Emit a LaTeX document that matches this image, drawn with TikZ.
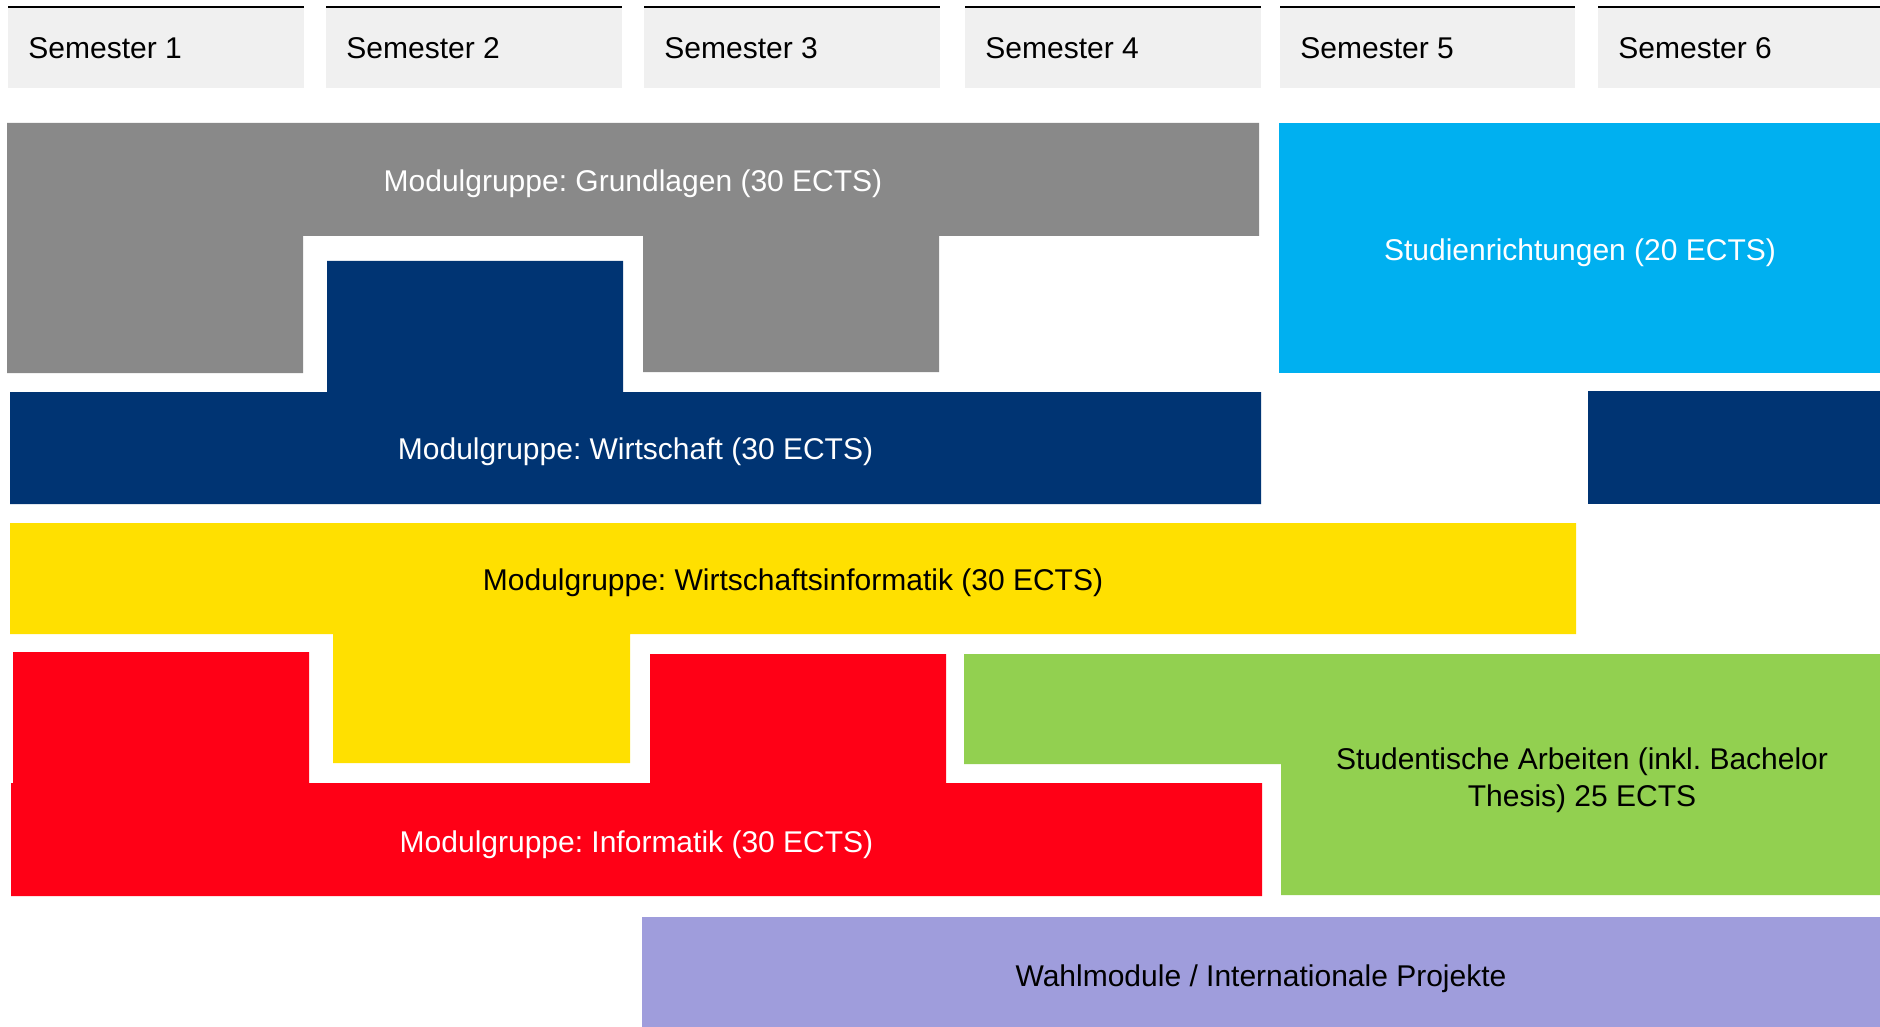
\documentclass[tikz,border=0pt]{standalone}
\usepackage{fontspec}
\setmainfont{Liberation Sans}
\frenchspacing
\definecolor{hdr}{HTML}{F0F0F0}
\definecolor{cgray}{HTML}{898989}
\definecolor{cnavy}{HTML}{003473}
\definecolor{ccyan}{HTML}{00B0F0}
\definecolor{cyellow}{HTML}{FFE000}
\definecolor{cred}{HTML}{FF0016}
\definecolor{cgreen}{HTML}{92D050}
\definecolor{cpurple}{HTML}{9F9DDC}
\begin{document}
\begin{tikzpicture}[x=0.5pt,y=-0.5pt,
  lbl/.style={inner sep=0pt, font=\fontsize{15}{18.3}\selectfont},
  wlbl/.style={lbl, text=white},
  klbl/.style={lbl, text=black}]
\useasboundingbox (0,0) rectangle (1880,1027);
\fill[white] (0,0) rectangle (1880,1027);

% header
\foreach \l/\r/\n in {8/304/1,326/622/2,644/940/3,965/1261/4,1280/1575/5,1598/1880/6} {
  \fill[hdr] (\l,7) rectangle (\r,88);
  \draw[line width=1pt, black] (\l,7) -- (\r,7);
  \node[klbl, anchor=base west] (sem\n) at (\l+20,59) {Semester \n};
}

% Grundlagen
\fill[cgray] (7,123) -- (1259,123) -- (1259,236) -- (939,236) -- (939,372) -- (643,372)
  -- (643,236) -- (303,236) -- (303,373) -- (7,373) -- cycle;
\node[wlbl] (grund) at (633,184) {Modulgruppe: Grundlagen (30 ECTS)};

% Studienrichtungen
\fill[ccyan] (1279,123) rectangle (1880,373);
\node[wlbl] (studr) at (1580,253) {Studienrichtungen (20 ECTS)};

% Wirtschaft
\fill[cnavy] (10,392) -- (327,392) -- (327,261) -- (623,261) -- (623,392) -- (1261,392)
  -- (1261,504) -- (10,504) -- cycle;
\fill[cnavy] (1588,391) rectangle (1880,504);
\node[wlbl] (wirt) at (635.5,452) {Modulgruppe: Wirtschaft (30 ECTS)};

% Wirtschaftsinformatik
\fill[cyellow] (10,523) -- (1576,523) -- (1576,634) -- (630,634) -- (630,763) -- (333,763)
  -- (333,634) -- (10,634) -- cycle;
\node[klbl] (winf) at (793,583) {Modulgruppe: Wirtschaftsinformatik (30 ECTS)};

% Informatik
\fill[cred] (13,652) -- (309,652) -- (309,783) -- (650,783) -- (650,654) -- (946,654)
  -- (946,783) -- (1262,783) -- (1262,896) -- (11,896) -- (11,783) -- (13,783) -- cycle;
\node[wlbl] (inf) at (636.5,845) {Modulgruppe: Informatik (30 ECTS)};

% Studentische Arbeiten
\fill[cgreen] (964,654) -- (1880,654) -- (1880,895) -- (1281,895) -- (1281,764) -- (964,764) -- cycle;
\node[klbl, align=center] (arb) at (1582,780) {Studentische Arbeiten (inkl. Bachelor\\Thesis) 25 ECTS};

% Wahlmodule
\fill[cpurple] (642,917) rectangle (1880,1027);
\node[klbl] (wahl) at (1261,979) {Wahlmodule / Internationale Projekte};
\end{tikzpicture}
\end{document}
